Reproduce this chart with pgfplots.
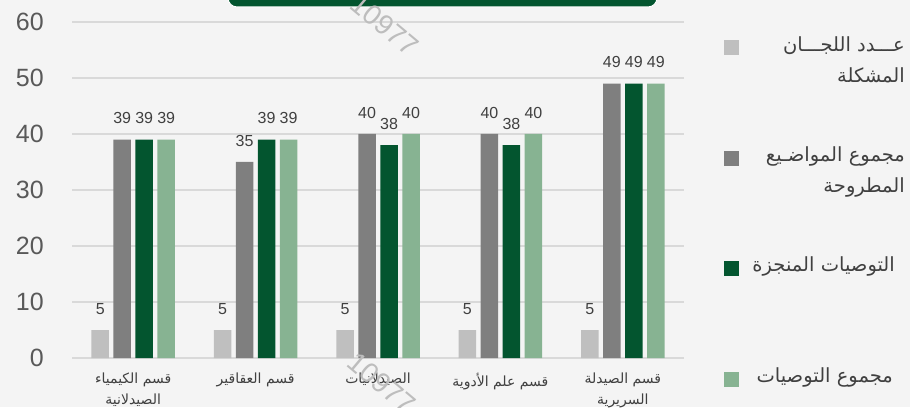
\documentclass[border=0pt]{standalone}
\usepackage{pgfplots}
\pgfplotsset{compat=1.18}
\usepackage{fontspec}
\setmainfont{Liberation Sans}
\newfontfamily\arabicfont[Script=Arabic]{DejaVu Sans}
\TeXXeTstate=1
\definecolor{bg}{HTML}{F4F4F4}
\definecolor{cA}{HTML}{BFBFBF}
\definecolor{cB}{HTML}{7F7F7F}
\definecolor{cC}{HTML}{03552F}
\definecolor{cD}{HTML}{87B392}
\definecolor{gridc}{HTML}{D9D9D9}
\definecolor{tickc}{HTML}{595959}
\definecolor{lblc}{HTML}{404040}
\definecolor{wmc}{HTML}{BDBDBD}
\begin{document}
\begin{tikzpicture}[x=1pt,y=1pt]
\fill[bg] (0,0) rectangle (910,407);
\path[use as bounding box] (0,0) rectangle (910,407);
\begin{axis}[
  at={(72pt,49pt)}, anchor=south west,
  scale only axis, width=612pt, height=336pt,
  xmin=-0.5, xmax=4.5, ymin=0, ymax=60,
  ytick={0,10,20,30,40,50,60},
  xtick={0,1,2,3,4},
  xticklabels={
    {\beginR قسم الكيمياء\endR\\\beginR الصيدلانية\endR},
    {\beginR قسم العقاقير\endR},
    {\beginR الصيدلانيات\endR},
    {\beginR قسم علم الأدوية\endR},
    {\beginR قسم الصيدلة\endR\\\beginR السريرية\endR}},
  ymajorgrids,
  grid style={color=gridc, line width=1.5pt},
  axis line style={draw=none},
  major tick length=0pt,
  /pgf/number format/assume math mode=true,
  yticklabel style={font=\fontsize{25}{30}\selectfont, color=tickc, inner sep=0pt, anchor=east, xshift=-28pt},
  xticklabel style={font=\arabicfont\fontsize{14}{21}\selectfont, color=lblc, align=center, inner sep=0pt, anchor=north, yshift=-15pt},
  nodes near coords,
  every node near coord/.append style={font=\fontsize{16}{19}\selectfont, color=lblc, inner sep=0pt, anchor=south, yshift=15.5pt},
]
\addplot[ybar, bar width=17.5pt, bar shift=-33pt, fill=cA, draw=none,
  every node near coord/.append style={xshift=-33pt}] coordinates {(0,5) (1,5) (2,5) (3,5) (4,5)};
\addplot[ybar, bar width=17.5pt, bar shift=-11pt, fill=cB, draw=none,
  every node near coord/.append style={xshift=-11pt}] coordinates {(0,39) (1,35) (2,40) (3,40) (4,49)};
\addplot[ybar, bar width=17.5pt, bar shift=11pt, fill=cC, draw=none,
  every node near coord/.append style={xshift=11pt}] coordinates {(0,39) (1,39) (2,38) (3,38) (4,49)};
\addplot[ybar, bar width=17.5pt, bar shift=33pt, fill=cD, draw=none,
  every node near coord/.append style={xshift=33pt}] coordinates {(0,39) (1,39) (2,40) (3,40) (4,49)};
\end{axis}
% legend
\fill[cA] (724,351.5) rectangle (739,366.5);
\fill[cB] (724,240.5) rectangle (739,255.5);
\fill[cC] (724,130.5) rectangle (739,145.5);
\fill[cD] (724,20.5) rectangle (739,35.5);
\begin{scope}[every node/.style={inner sep=0pt, anchor=base east, text=lblc, font=\arabicfont\fontsize{19.5}{24}\selectfont}]
\node at (905,355) {\beginR عـــدد اللجـــان\endR};
\node at (905,324) {\beginR المشكلة\endR};
\node at (905,245) {\beginR مجموع المواضـيع\endR};
\node at (905,214) {\beginR المطروحة\endR};
\node at (895,135) {\beginR التوصيات المنجزة\endR};
\node at (893,24) {\beginR مجموع التوصيات\endR};
\end{scope}
\fill[cC, draw=white, line width=1pt, rounded corners=9pt] (228,400) rectangle (657,440);
\node[rotate=-40, color=wmc, font=\fontsize{28}{30}\selectfont] at (385,382) {10977};
\node[rotate=-40, color=wmc, font=\fontsize{28}{30}\selectfont] at (382,24) {10977};
\end{tikzpicture}
\end{document}
